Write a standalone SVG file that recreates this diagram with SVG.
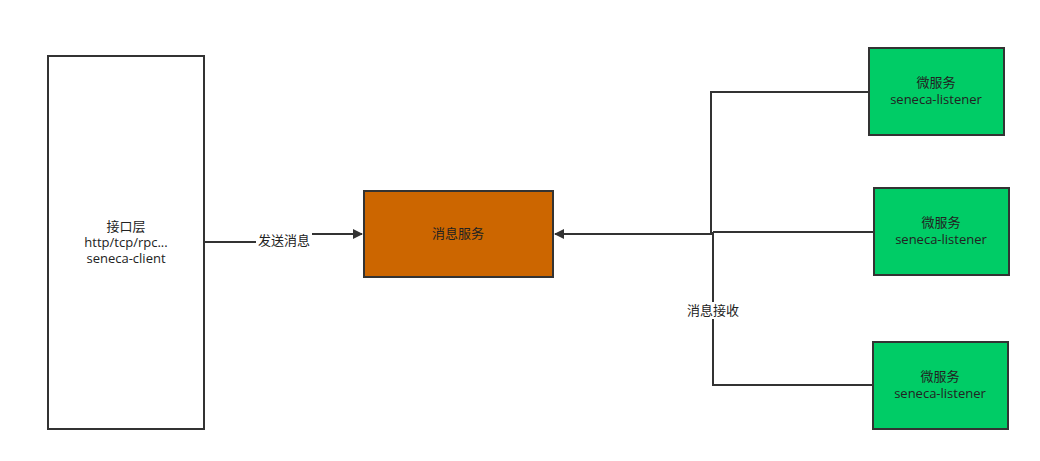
<svg xmlns="http://www.w3.org/2000/svg" width="1040" height="461" viewBox="0 0 1040 461">
<style>
.box{stroke:#333;stroke-width:2}
.t{font-family:"Open Sans","Noto Sans CJK SC",sans-serif;font-size:13px;fill:#222;text-anchor:middle}
.c{fill:none;stroke:#333;stroke-width:2}
.lbl{font-family:"Open Sans","Noto Sans CJK SC",sans-serif;font-size:13px;fill:#222;text-anchor:middle}
</style>
<defs>
<marker id="arr" markerWidth="10" markerHeight="10" refX="9" refY="5" orient="auto" markerUnits="userSpaceOnUse">
<path d="M0,0 L10,5 L0,10 Z" fill="#333"/>
</marker>
</defs>
<rect width="1040" height="461" fill="#fff"/>
<g id="connectors">
<path class="c" d="M204,242 H284 V234 H362" marker-end="url(#arr)"/>
<rect x="256" y="232" width="56" height="17" fill="#fff"/>
<text class="lbl" x="284" y="245">发送消息</text>
<path class="c" d="M869,92 H711 V234 H555" marker-end="url(#arr)"/>
<path class="c" d="M873,232 H713"/>
<path class="c" d="M873,385 H713 V232"/>
<rect x="685" y="302" width="56" height="17" fill="#fff"/>
<text class="lbl" x="713" y="315">消息接收</text>
</g>
<g id="interface">
<rect class="box" x="48" y="56" width="156" height="373" fill="#fff"/>
<text class="t" x="126" y="231">接口层</text>
<text class="t" x="126" y="247">http/tcp/rpc...</text>
<text class="t" x="126" y="263">seneca-client</text>
</g>
<g id="msgservice">
<rect class="box" x="364" y="191" width="189" height="86" fill="#CC6600"/>
<text class="t" x="458" y="238">消息服务</text>
</g>
<g id="ms1">
<rect class="box" x="869" y="48" width="135" height="87" fill="#00CC66"/>
<text class="t" x="936" y="87">微服务</text>
<text class="t" x="936" y="104">seneca-listener</text>
</g>
<g id="ms2">
<rect class="box" x="874" y="188" width="135" height="87" fill="#00CC66"/>
<text class="t" x="941" y="227">微服务</text>
<text class="t" x="941" y="244">seneca-listener</text>
</g>
<g id="ms3">
<rect class="box" x="873" y="342" width="135" height="87" fill="#00CC66"/>
<text class="t" x="940" y="381">微服务</text>
<text class="t" x="940" y="398">seneca-listener</text>
</g>
</svg>
